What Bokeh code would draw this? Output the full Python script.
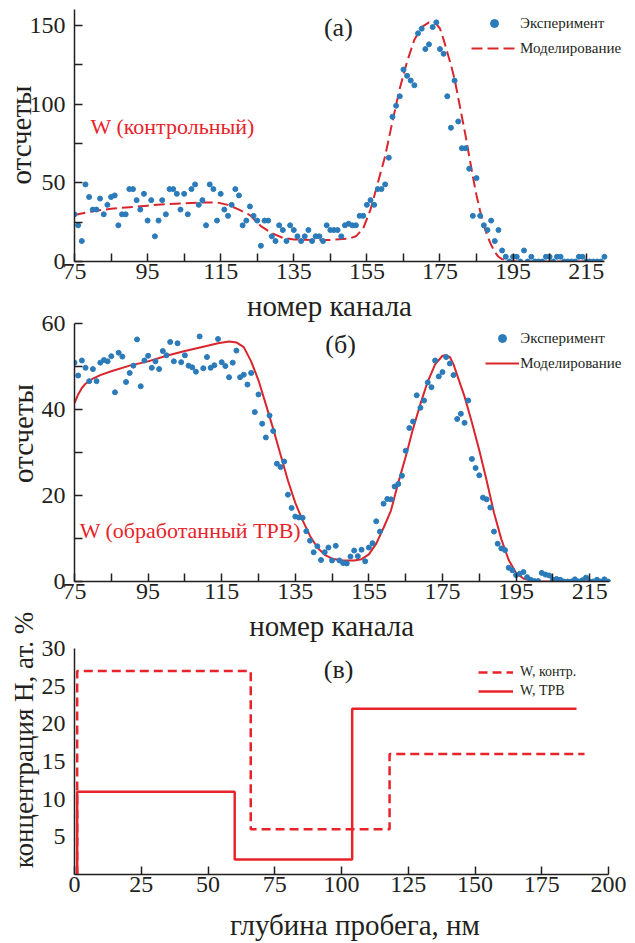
from bokeh.plotting import figure
from bokeh.layouts import column
from bokeh.models import Range1d, FixedTicker, Label, Legend, LegendItem
from bokeh.embed import file_html
from bokeh.resources import INLINE

# ---------------- data ----------------
channels = list(range(75, 221))

exp_a = [30, 23, 13, 49, 41, 33, 33, 40, 30, 36,
         41, 42, 23, 30, 30, 46, 46, 39, 33, 43,
         26, 39, 16, 26, 39, 30, 46, 46, 43, 33,
         43, 30, 46, 49, 36, 39, 23, 49, 46, 26,
         43, 33, 29, 36, 46, 42, 23, 26, 35, 29,
         26, 10, 26, 26, 16, 13, 23, 20, 13, 23,
         20, 16, 13, 16, 20, 13, 16, 16, 13, 23,
         20, 20, 20, 16, 23, 24, 23, 23, 29, 29,
         36, 39, 36, 46, 46, 49, 66, 92, 99, 105,
         122, 118, 115, 112, 145, 148, 135, 138, 149, 152,
         135, 132, 105, 85, 115, 89, 72, 72, 59, 29,
         53, 29, 23, 20, 26, 13, 20, 7, 3, 0,
         3, 3, 0, 7, 0, 3, 0, 0, 0, 3,
         3, 0, 3, 3, 0, 0, 0, 0, 3, 3,
         0, 0, 0, 0, 0, 3]

model_a_x = [75, 80, 85, 90, 95, 100, 105, 110, 114, 117, 120, 123, 126, 129, 132, 135,
             140, 145, 150, 152, 154, 156, 158, 160, 162, 164, 166, 168, 170, 172, 174,
             175, 176, 177, 178, 179, 180, 181, 182, 183, 184, 185, 186, 187, 188, 189,
             190, 191, 192, 194, 196, 205, 220]
model_a_y = [29.5, 32, 33.5, 34.5, 35.5, 36.5, 37, 37.5, 37.5, 36, 33, 29.5, 22.5, 18, 15, 14,
             13.7, 13.7, 14.5, 16, 21, 33, 50, 67, 89, 110, 127, 141, 149, 152, 151,
             148, 141, 133, 125, 116, 104, 92, 80, 67, 54, 42, 32, 23, 16, 10.6,
             6, 3, 1.5, 0.4, 0, 0, 0]

exp_b = [50.9, 47.9, 51.4, 49.7, 46.6, 49.4, 46.6, 50.9, 51.5, 51.2,
         52.4, 44.0, 53.2, 52.3, 46.4, 48.5, 50.2, 56.3, 45.4, 51.4,
         52.5, 49.7, 51.2, 49.4, 53.6, 52.6, 55.7, 51.2, 55.4, 51.0,
         52.6, 50.2, 49.8, 48.8, 57.0, 49.6, 52.2, 49.7, 50.3, 56.4,
         51.0, 50.1, 47.5, 50.9, 53.7, 47.5, 48.1, 45.8, 48.5, 39.4,
         43.5, 36.7, 33.5, 38.6, 35.0, 27.4, 26.6, 27.9, 20.2, 17.1,
         15.1, 14.9, 14.8, 11.7, 9.5, 6.8, 8.2, 5.0, 6.8, 7.9,
         4.9, 8.3, 4.9, 4.3, 4.2, 5.8, 7.2, 5.9, 7.4, 4.7,
         7.9, 8.9, 14.0, 11.6, 18.1, 19.2, 19.1, 22.1, 22.7, 24.6,
         30.4, 35.7, 37.2, 43.3, 40.4, 42.1, 46.3, 45.2, 51.4, 47.7,
         48.7, 52.2, 50.7, 48.0, 37.8, 39.0, 36.9, 42.1, 28.5, 26.4,
         24.7, 19.5, 19.1, 17.2, 11.6, 8.8, 7.7, 7.3, 3.2, 2.6,
         1.5, 1.8, 2.2, 1.0, 0.4, 0.1, 0.1, 2.0, 1.6, 1.4,
         0.4, 0.6, 0.4, 0.0, 0.0, 0.0, 0.5, 0.0, 0.3, 0.9,
         0.0, 0.0, 0.4, 0.0, 0.5, 0.0]

model_b_x = [75, 76, 77, 78, 80, 82, 85, 90, 95, 100, 105, 110, 114, 117, 119, 121, 123,
             125, 127, 129, 131, 133, 135, 137, 139, 141, 143, 145, 148, 151, 153, 155,
             157, 159, 161, 163, 165, 167, 169, 171, 173, 175, 176, 177, 178, 179, 181,
             183, 185, 187, 189, 191, 193, 195, 197, 199, 201, 210, 220.4]
model_b_y = [41.5, 43.5, 45, 46, 47.2, 48, 48.9, 50.2, 51.2, 52.5, 53.6, 54.6, 55.4, 55.8, 55.6,
             54.5, 51.2, 46.8, 41.2, 35.5, 29.5, 23.5, 18.3, 14.2, 10.6, 7.9, 6.2, 5.3, 4.9,
             4.9, 5.2, 6.3, 8.8, 12.5, 16.5, 23, 29, 35.5, 41.3, 46.5, 50.5, 52.5, 52.6, 52.2,
             50.5, 48, 43, 37, 30.5, 23.5, 16, 9.8, 5, 2, 0.7, 0.2, 0, 0, 0]

depth_ctrl = [1, 1, 66, 118, 191]
conc_ctrl = [0, 27, 6, 16, 16]
depth_trv = [1, 1, 60, 104, 188]
conc_trv = [0, 11, 2, 22, 22]

x_major_ab = [75, 95, 115, 135, 155, 175, 195, 215]
x_minor_ab = [85, 105, 125, 145, 165, 185, 205]
ya_major = [0, 50, 100, 150]
ya_minor = [25, 75, 125]
yb_major = [0, 20, 40, 60]
yb_minor = [10, 30, 50]
xc_major = [0, 25, 50, 75, 100, 125, 150, 175, 200]
yc_major = [5, 10, 15, 20, 25, 30]

X_LABEL_AB = "номер канала"
Y_LABEL_AB = "отсчеты"
X_LABEL_C = "глубина пробега, нм"
Y_LABEL_C = "концентрация H, ат. %"

# ---------------- style ----------------
FONT = "Liberation Serif"
INK = "#231f20"
BLUE = "#2b7bba"
RED = "#d9262d"
RED2 = "#e8232a"


def style_axes(p, xt, xm, yt, ym, xls, yls, xbounds, ybounds, ytick=8, ylabel_size="29px"):
    for ax in (p.xaxis[0], p.yaxis[0]):
        ax.axis_line_color = INK
        ax.axis_line_width = 1.5
        ax.major_tick_line_color = INK
        ax.minor_tick_line_color = INK
        ax.major_tick_line_width = 1.5
        ax.minor_tick_line_width = 1.5
        ax.major_tick_out = 0
        ax.minor_tick_out = 0
        ax.major_label_text_font = FONT
        ax.major_label_text_font_size = "24px"
        ax.major_label_text_color = INK
        ax.axis_label_text_font = FONT
        ax.axis_label_text_font_size = "29px"
        ax.axis_label_text_font_style = "normal"
        ax.axis_label_text_color = INK
    p.yaxis[0].axis_label_text_font_size = ylabel_size
    p.xaxis[0].bounds = xbounds
    p.yaxis[0].bounds = ybounds
    p.xaxis[0].ticker = FixedTicker(ticks=xt, minor_ticks=xm)
    p.yaxis[0].ticker = FixedTicker(ticks=yt, minor_ticks=ym)
    p.xaxis[0].major_tick_in = 8
    p.xaxis[0].minor_tick_in = 8
    p.yaxis[0].major_tick_in = ytick
    p.yaxis[0].minor_tick_in = ytick
    p.xaxis[0].major_label_standoff = 2
    p.yaxis[0].major_label_standoff = 9
    p.xaxis[0].axis_label_standoff = xls
    p.yaxis[0].axis_label_standoff = yls
    p.xgrid.visible = False
    p.ygrid.visible = False
    p.outline_line_color = None
    p.background_fill_color = "white"
    p.border_fill_color = "white"


def make_legend(items, loc, gw, gh, standoff, spacing, fs):
    return Legend(items=items, location=loc, orientation="vertical",
                  glyph_width=gw, glyph_height=gh, label_standoff=standoff,
                  spacing=spacing, padding=0, margin=0,
                  label_text_font=FONT, label_text_font_size=fs,
                  label_text_color=INK, border_line_color=None,
                  background_fill_alpha=0)


def axis_title(text, x, y):
    return Label(x=x, y=y, text=text, text_font=FONT, text_font_size="29px",
                 text_color=INK, text_align="center", text_baseline="alphabetic")


# ---------------- panel (a) ----------------
pa = figure(frame_width=561, frame_height=253, x_range=Range1d(75, 228.5), y_range=Range1d(0, 160.8),
            min_border_left=74, min_border_right=0, min_border_top=8, min_border_bottom=24,
            output_backend="svg", toolbar_location=None, y_axis_label=Y_LABEL_AB)
style_axes(pa, x_major_ab, x_minor_ab, ya_major, ya_minor, 0, -10, (75, 220), (0, 160))
ra_m = pa.line(model_a_x, model_a_y, line_color=RED, line_width=2, line_dash="11 5")
ra_e = pa.scatter(channels, exp_a, size=5, fill_color=BLUE, line_color=BLUE)
pa.add_layout(make_legend([LegendItem(label="Эксперимент", renderers=[ra_e]),
                           LegendItem(label="Моделирование", renderers=[ra_m])],
                          (397, 203), 46, 20, 3, 5, "15px"), "center")
pa.add_layout(Label(x=147.2, y=148.8, text="(а)", text_font=FONT, text_font_size="26px",
                    text_color=INK, text_align="center", text_baseline="middle"))
pa.add_layout(Label(x=79.4, y=85.8, text="W (контрольный)", text_font=FONT, text_font_size="22px",
                    text_color=RED2, text_align="left", text_baseline="middle"))

# ---------------- panel (b) ----------------
# frame extended upward (axis bounded at 60) to hold the x title of panel (a)
pb = figure(frame_width=563, frame_height=296, x_range=Range1d(75, 228.0), y_range=Range1d(0, 68.84),
            min_border_left=72, min_border_right=0, min_border_top=0, min_border_bottom=24,
            output_backend="svg", toolbar_location=None, y_axis_label=Y_LABEL_AB)
style_axes(pb, x_major_ab, x_minor_ab, yb_major, yb_minor, 0, 0, (75, 220.4), (0, 60))
rb_m = pb.line(model_b_x, model_b_y, line_color=RED, line_width=2)
rb_e = pb.scatter(channels, exp_b, size=5, fill_color=BLUE, line_color=BLUE)
pb.add_layout(make_legend([LegendItem(label="Эксперимент", renderers=[rb_e]),
                           LegendItem(label="Моделирование", renderers=[rb_m])],
                          (414, 208), 34, 20, 1, 5, "15px"), "center")
pb.add_layout(Label(x=147.3, y=55.1, text="(б)", text_font=FONT, text_font_size="26px",
                    text_color=INK, text_align="center", text_baseline="middle"))
pb.add_layout(Label(x=76.4, y=11.9, text="W (обработанный ТРВ)", text_font=FONT, text_font_size="22px",
                    text_color=RED2, text_align="left", text_baseline="middle"))
pb.add_layout(axis_title(X_LABEL_AB, 144.3, 64.07))

# ---------------- panel (c) ----------------
pc = figure(frame_width=561, frame_height=269, x_range=Range1d(0, 210.1), y_range=Range1d(0, 35.71),
            min_border_left=74, min_border_right=0, min_border_top=0, min_border_bottom=69,
            output_backend="svg", toolbar_location=None,
            x_axis_label=X_LABEL_C, y_axis_label=Y_LABEL_C)
style_axes(pc, xc_major, [], yc_major, [], 14, 0, (0, 200), (0, 30), ytick=0, ylabel_size="27px")
rc_d = pc.step(depth_ctrl, conc_ctrl, mode="after", line_color=RED2, line_width=2.5, line_dash="9 5")
rc_s = pc.step(depth_trv, conc_trv, mode="after", line_color=RED2, line_width=2.5)
pc.add_layout(make_legend([LegendItem(label="W, контр.", renderers=[rc_d]),
                           LegendItem(label="W, ТРВ", renderers=[rc_s])],
                          (404, 175), 35, 16, 7, 3, "14px"), "center")
pc.add_layout(Label(x=98.9, y=27.2, text="(в)", text_font=FONT, text_font_size="26px",
                    text_color=INK, text_align="center", text_baseline="middle"))
pc.add_layout(axis_title(X_LABEL_AB, 96.3, 32.99))

layout = column(pa, pb, pc, spacing=0)
open("out.html", "w").write(file_html(layout, INLINE))
